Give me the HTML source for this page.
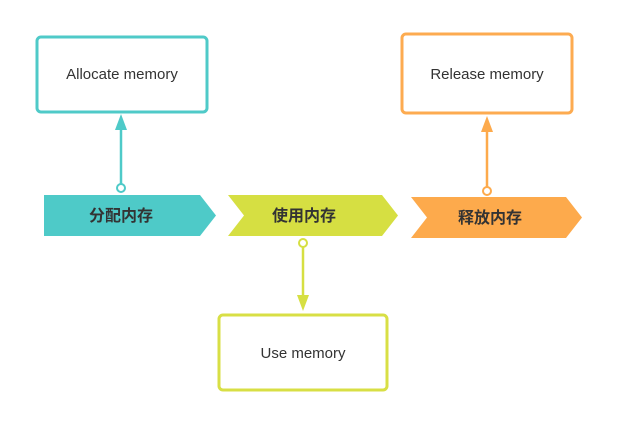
<!DOCTYPE html>
<html><head><meta charset="utf-8"><style>
body{margin:0;background:#fff;width:622px;height:431px;overflow:hidden}
</style></head><body>
<svg width="622" height="431" xmlns="http://www.w3.org/2000/svg" font-family="Liberation Sans, Noto Sans CJK SC, sans-serif">
<rect x="37" y="37" width="170" height="75" rx="4" fill="#fff" stroke="#4fcac8" stroke-width="3"/>
<text x="122" y="79" text-anchor="middle" font-size="15" fill="#333">Allocate memory</text>
<rect x="402" y="34" width="170" height="79" rx="4" fill="#fff" stroke="#fdab50" stroke-width="3"/>
<text x="487" y="79" text-anchor="middle" font-size="15" fill="#333">Release memory</text>
<rect x="219" y="315" width="168" height="75" rx="4" fill="#fff" stroke="#d8df45" stroke-width="3"/>
<text x="303" y="358" text-anchor="middle" font-size="15" fill="#333">Use memory</text>

<polygon points="44,195 200,195 216,215.5 200,236 44,236" fill="#4ecac8"/>
<polygon points="228,195 382,195 398,215.5 382,236 228,236 244,215.5" fill="#d6df42"/>
<polygon points="411,197 566,197 582,217.5 566,238 411,238 427,217.5" fill="#fdaa4c"/>
<g font-size="16" font-weight="bold" fill="#333" text-anchor="middle">
<text x="121" y="221">分配内存</text>
<text x="304" y="221">使用内存</text>
<text x="490" y="223">释放内存</text>
</g>

<line x1="121" y1="184" x2="121" y2="128" stroke="#4ecac8" stroke-width="2.5"/>
<polygon points="115,130 127,130 121,114" fill="#4ecac8"/>
<circle cx="121" cy="188" r="4" fill="#fff" stroke="#4ecac8" stroke-width="2"/>

<line x1="487" y1="187" x2="487" y2="130" stroke="#fdaa4c" stroke-width="2.5"/>
<polygon points="481,132 493,132 487,116" fill="#fdaa4c"/>
<circle cx="487" cy="191" r="4" fill="#fff" stroke="#fdaa4c" stroke-width="2"/>

<line x1="303" y1="247" x2="303" y2="297" stroke="#d6df42" stroke-width="2.5"/>
<polygon points="297,295 309,295 303,311" fill="#d6df42"/>
<circle cx="303" cy="243" r="4" fill="#fff" stroke="#d6df42" stroke-width="2"/>
</svg>
</body></html>
